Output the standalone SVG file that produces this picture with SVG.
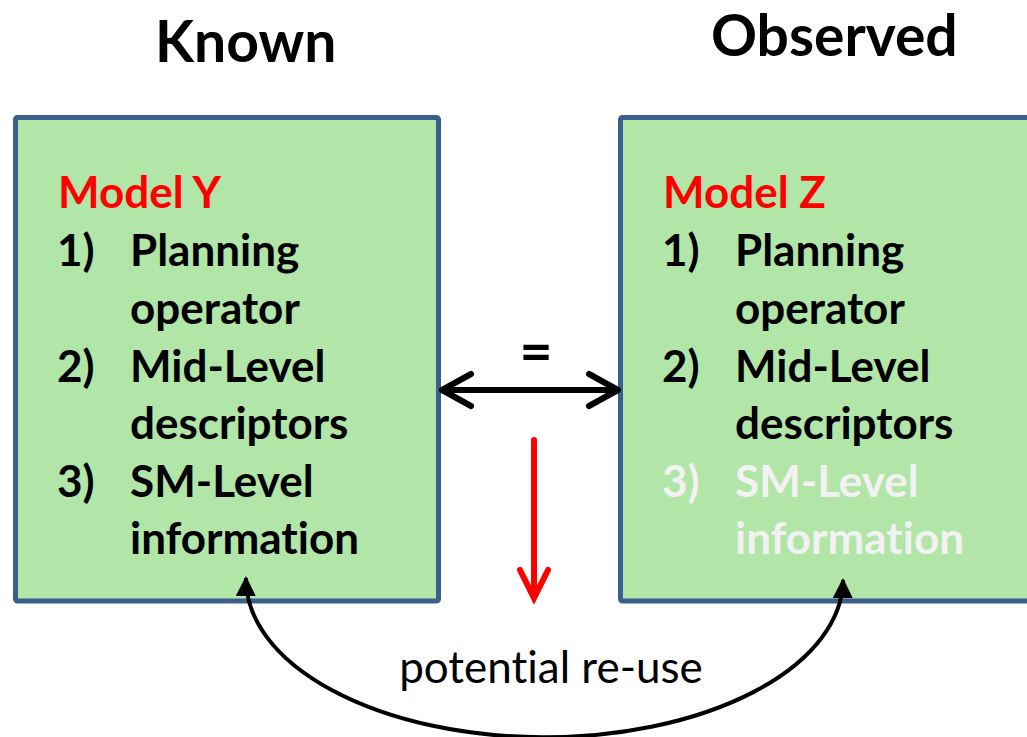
<svg xmlns="http://www.w3.org/2000/svg" width="1027" height="737" viewBox="0 0 1027 737">
  <style>
    text { font-variant-ligatures: none; }
    .box { fill: #B2E5A8; stroke: #3C5E8B; stroke-width: 5; }
    .t { font-family: Lato, "Liberation Sans", sans-serif; font-weight: bold; font-size: 44px; fill: #000; }
    .red { fill: #FF0000; }
    .dim { fill: #F2F2F2; }
    .title { font-family: Lato, "Liberation Sans", sans-serif; font-weight: bold; font-size: 57px; fill: #000; }
    .lbl { font-family: Lato, "Liberation Sans", sans-serif; font-size: 44px; fill: #000; }
  </style>
  <defs>
    <marker id="tri" viewBox="0 0 10 10" refX="9" refY="5" markerWidth="5" markerHeight="5" orient="auto-start-reverse" markerUnits="strokeWidth">
      <path d="M0,0 L10,5 L0,10 z" fill="#000"/>
    </marker>
  </defs>

  <g id="title-known"><text class="title" x="155" y="62">Known</text></g>
  <g id="title-observed"><text class="title" x="711" y="56">Observed</text></g>

  <g id="model-y">
    <rect class="box" x="15.5" y="117.5" width="423" height="483.5" rx="2"/>
    <text class="t red" x="58" y="208">Model Y</text>
    <text class="t" x="57" y="266">1)</text>
    <text class="t" x="130" y="266">Planning</text>
    <text class="t" x="130" y="324">operator</text>
    <text class="t" x="57" y="382">2)</text>
    <text class="t" x="130" y="382">Mid-Level</text>
    <text class="t" x="130" y="439">descriptors</text>
    <text class="t" x="57" y="497">3)</text>
    <text class="t" x="130" y="497">SM-Level</text>
    <text class="t" x="130" y="554">information</text>
  </g>

  <g id="model-z">
    <rect class="box" x="620.5" y="117.5" width="420" height="483.5" rx="2"/>
    <text class="t red" x="663" y="208">Model Z</text>
    <text class="t" x="662" y="266">1)</text>
    <text class="t" x="735" y="266">Planning</text>
    <text class="t" x="735" y="324">operator</text>
    <text class="t" x="662" y="382">2)</text>
    <text class="t" x="735" y="382">Mid-Level</text>
    <text class="t" x="735" y="439">descriptors</text>
    <text class="t dim" x="662" y="497">3)</text>
    <text class="t dim" x="735" y="497">SM-Level</text>
    <text class="t dim" x="735" y="554">information</text>
  </g>

  <g id="connectors">
    <g id="equal-arrow" fill="none" stroke="#000" stroke-width="6" stroke-linecap="round" stroke-linejoin="round">
      <line x1="443" y1="390" x2="617" y2="390"/>
      <polyline points="471,374 442,390 471,406"/>
      <polyline points="589,374 618,390 589,406"/>
    </g>
    <text class="title" x="536" y="372" text-anchor="middle">=</text>
    <g id="red-arrow" fill="none" stroke="#FF0000" stroke-width="6" stroke-linecap="round">
      <line x1="534" y1="440" x2="534" y2="594"/>
      <polyline points="520,570 534,598 548,570" stroke-linejoin="miter"/>
    </g>
    <path id="reuse-arrow" d="M246,578 A 298 158 0 0 0 843,580" fill="none" stroke="#000" stroke-width="4" marker-start="url(#tri)" marker-end="url(#tri)"/>
    <text class="lbl" x="551" y="683" text-anchor="middle">potential re-use</text>
  </g>
</svg>
